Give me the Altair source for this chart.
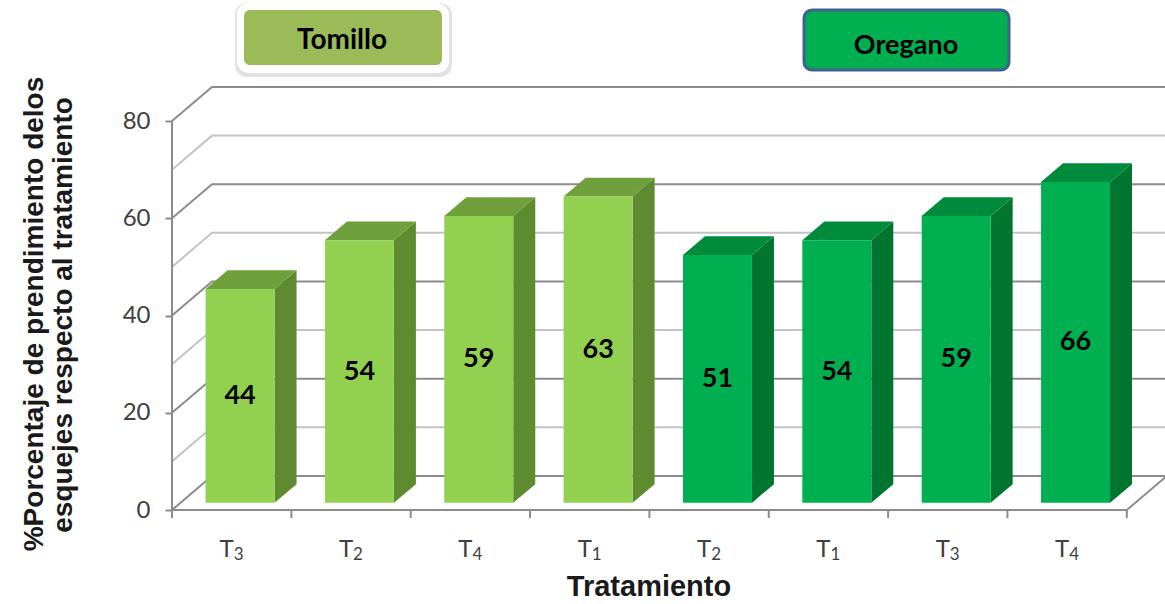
import altair as alt
import pandas as pd

# --- datos ---
grupos = ["Tomillo", "Tomillo", "Tomillo", "Tomillo",
          "Oregano", "Oregano", "Oregano", "Oregano"]
tratamientos = ["3", "2", "4", "1", "2", "1", "3", "4"]
valores = [44, 54, 59, 63, 51, 54, 59, 66]
leyenda = ["Tomillo", "Oregano"]
y_ticks = [0, 20, 40, 60, 80]
grid_vals = [0, 10, 20, 30, 40, 50, 60, 70, 80]

titulo_x = "Tratamiento"
titulo_y = ["%Porcentaje de prendimiento delos",
            "esquejes  respecto al tratamiento"]

# --- proyección 3D: desplazamiento de la pared del fondo ---
DX = 0.335      # en anchos de categoría
DY = 7.0        # en unidades del eje Y
D_FRONT = 0.21  # profundidad de la cara frontal de las barras
D_BACK = 0.76   # profundidad de la cara trasera
BAR_W = 0.578
N = len(valores)
X_MAX = 8.32
Y_MAX = 87

W, H = 993, 423

colores = {
    "Tomillo": {"front": "#92d050", "top": "#70a03c", "side": "#5e8a30"},
    "Oregano": {"front": "#00b050", "top": "#008a3c", "side": "#00752f"},
}

xscale = alt.Scale(domain=[0, X_MAX], nice=False, zero=False)
yscale = alt.Scale(domain=[0, Y_MAX], nice=False, zero=False)
yaxis = alt.Axis(values=y_ticks, title=None, grid=False, domain=False,
                 tickSize=7, tickWidth=2, tickColor="#8c8c8c",
                 labelFont="Lato", labelFontSize=24, labelColor="#404040",
                 labelPadding=15)


def X(f):
    return alt.X(f, type="quantitative", scale=xscale, axis=None, stack=False)


def Y(f):
    return alt.Y(f, type="quantitative", scale=yscale, axis=yaxis, stack=False)


def color_por_grupo(cara):
    return alt.condition(alt.datum.grupo == "Tomillo",
                         alt.value(colores["Tomillo"][cara]),
                         alt.value(colores["Oregano"][cara]))


# --- tablas derivadas ---
barras = pd.DataFrame({
    "i": range(N), "grupo": grupos, "trat": tratamientos, "valor": valores,
})
barras["izq"] = barras["i"] + 0.5 - BAR_W / 2
barras["der"] = barras["i"] + 0.5 + BAR_W / 2

frente = barras.assign(
    x=barras["izq"] + D_FRONT * DX, x2=barras["der"] + D_FRONT * DX,
    y=D_FRONT * DY, y2=barras["valor"] + D_FRONT * DY,
    xc=barras["i"] + 0.5 + D_FRONT * DX,
    yc=barras["valor"] / 2 + D_FRONT * DY,
)

filas_lado, filas_tapa = [], []
for _, b in barras.iterrows():
    for d in (D_FRONT, D_BACK):
        filas_lado.append({"i": b["i"], "grupo": b["grupo"],
                           "x": b["der"] + d * DX,
                           "y": d * DY, "y2": b["valor"] + d * DY})
        filas_tapa.append({"i": b["i"], "grupo": b["grupo"],
                           "y": b["valor"] + d * DY,
                           "x": b["izq"] + d * DX, "x2": b["der"] + d * DX})
lado = pd.DataFrame(filas_lado)
tapa = pd.DataFrame(filas_tapa)

filas_grid = []
for g in grid_vals:
    for k, (px, py) in enumerate([(0, g), (DX, g + DY), (X_MAX, g + DY)]):
        filas_grid.append({"g": g, "k": k, "x": px, "y": py,
                           "mayor": g % 20 == 0})
grid = pd.DataFrame(filas_grid)

# --- paredes y líneas de guía ---
capa_grid = alt.Chart(grid).mark_line(strokeWidth=2).encode(
    x=X("x"), y=Y("y"), detail="g:N", order="k:Q",
    color=alt.condition(alt.datum.mayor, alt.value("#8c8c8c"),
                        alt.value("#c4c4c4")),
)

esquina = alt.Chart(pd.DataFrame({"x": [N, N + DX], "y": [0, DY]})).mark_line(
    color="#8c8c8c", strokeWidth=2).encode(x=X("x"), y=Y("y"))

eje_y = alt.Chart(pd.DataFrame({"y": [0], "y2": [y_ticks[-1]]})).mark_rule(
    color="#8c8c8c", strokeWidth=2).encode(
    x=alt.value(0), y=Y("y"), y2="y2")

eje_x = alt.Chart(pd.DataFrame({"x": [0], "x2": [N], "y": [0]})).mark_rule(
    color="#8c8c8c", strokeWidth=2).encode(x=X("x"), x2="x2", y=Y("y"))

marcas_x = alt.Chart(pd.DataFrame({"x": list(range(N + 1)), "y": [0] * (N + 1)})
                     ).mark_rule(color="#8c8c8c", strokeWidth=2).encode(
    x=X("x"), y=Y("y"), y2=alt.value(H + 8))

# --- barras 3D ---
capa_lado = alt.Chart(lado).mark_area(orient="vertical").encode(
    x=X("x"), y=Y("y"), y2="y2", detail="i:N", color=color_por_grupo("side"))

capa_tapa = alt.Chart(tapa).mark_area(orient="horizontal").encode(
    y=Y("y"), x=X("x"), x2="x2", detail="i:N", color=color_por_grupo("top"))

capa_frente = alt.Chart(frente).mark_rect().encode(
    x=X("x"), x2="x2", y=Y("y"), y2="y2", color=color_por_grupo("front"))

etiquetas = alt.Chart(frente).mark_text(
    font="Lato", fontWeight="bold", fontSize=27, color="#000000",
    baseline="middle").encode(x=X("xc"), y=Y("yc"), text="valor:Q")

# --- etiquetas de categoría (T con subíndice) ---
cats = barras.assign(xc=barras["i"] + 0.5, y0=0.0, t="T")
cat_t = alt.Chart(cats).mark_text(
    font="Lato", fontSize=24, color="#404040", baseline="alphabetic",
    dx=-5, dy=47).encode(x=X("xc"), y=Y("y0"), text="t:N")
cat_sub = alt.Chart(cats).mark_text(
    font="Lato", fontSize=17, color="#404040", baseline="alphabetic",
    dx=7, dy=50).encode(x=X("xc"), y=Y("y0"), text="trat:N")

# --- títulos ---
def texto(t, x, y, **kw):
    return alt.Chart(pd.DataFrame({"t": [t]})).mark_text(**kw).encode(
        x=alt.value(x), y=alt.value(y), text="t:N")


tit_x = texto(titulo_x, 477, 509, font="Liberation Sans", fontWeight="bold",
              fontSize=29, color="#1a1a1a", baseline="alphabetic")
tit_y1 = texto(titulo_y[0], -137, 227, font="Liberation Sans",
               fontWeight="bold", fontSize=28, color="#1a1a1a",
               baseline="middle", angle=270)
tit_y2 = texto(titulo_y[1], -108, 228, font="Liberation Sans",
               fontWeight="bold", fontSize=28, color="#1a1a1a",
               baseline="middle", angle=270)

# --- cuadros de leyenda ---
OY = -87  # origen vertical del área de trazado
sombra_tom = alt.Chart(pd.DataFrame({"a": [0]})).mark_rect(
    cornerRadius=12, color="#e2e2e2").encode(
    x=alt.value(235 - 172), x2=alt.value(452 - 172),
    y=alt.value(3 + OY), y2=alt.value(77 + OY))
marco_tom = alt.Chart(pd.DataFrame({"a": [0]})).mark_rect(
    cornerRadius=12, color="#ffffff").encode(
    x=alt.value(237 - 172), x2=alt.value(449 - 172),
    y=alt.value(3 + OY), y2=alt.value(73 + OY))
caja_tom = alt.Chart(pd.DataFrame({"a": [0]})).mark_rect(
    cornerRadius=6, color="#9bbb59").encode(
    x=alt.value(244 - 172), x2=alt.value(442 - 172),
    y=alt.value(10 + OY), y2=alt.value(65 + OY))
txt_tom = texto(leyenda[0], 342 - 172, 49 + OY, font="Lato",
                fontWeight="bold", fontSize=28, color="#000000",
                baseline="alphabetic")

caja_ore = alt.Chart(pd.DataFrame({"a": [0]})).mark_rect(
    cornerRadius=8, color="#00b050", stroke="#41618f", strokeWidth=3).encode(
    x=alt.value(804 - 172), x2=alt.value(1009 - 172),
    y=alt.value(10 + OY), y2=alt.value(70 + OY))
txt_ore = texto(leyenda[1], 906 - 172, 54 + OY, font="Lato",
                fontWeight="bold", fontSize=27, color="#000000",
                baseline="alphabetic")

chart = alt.layer(
    capa_grid, esquina, eje_y, eje_x, marcas_x,
    capa_lado, capa_tapa, capa_frente, etiquetas,
    cat_t, cat_sub, tit_x, tit_y1, tit_y2,
    sombra_tom, marco_tom, caja_tom, txt_tom, caja_ore, txt_ore,
).properties(
    width=W, height=H,
    autosize=alt.AutoSizeParams(type="none"),
    padding={"left": 172, "top": 87, "right": 0, "bottom": 94},
    background="#ffffff",
).configure_view(stroke=None)

chart.save("out.html", embed_options={"renderer": "svg", "actions": False})
